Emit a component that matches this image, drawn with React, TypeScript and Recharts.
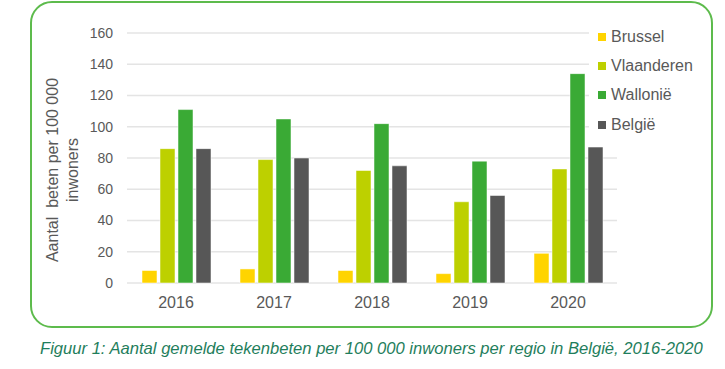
import { Bar, BarChart, CartesianGrid, Legend, XAxis, YAxis } from "recharts"

const years = ["2016", "2017", "2018", "2019", "2020"]
const brussel = [8, 9, 8, 6, 19]
const vlaanderen = [86, 79, 72, 52, 73]
const wallonie = [111, 105, 102, 78, 134]
const belgie = [86, 80, 75, 56, 87]
const yTicks = [0, 20, 40, 60, 80, 100, 120, 140, 160]

const series = [
  { key: "Brussel", color: "#FFD400" },
  { key: "Vlaanderen", color: "#BDD000" },
  { key: "Wallonië", color: "#3AAA35" },
  { key: "België", color: "#575757" },
]

const data = years.map((year, i) => ({
  year,
  Brussel: brussel[i],
  Vlaanderen: vlaanderen[i],
  Wallonië: wallonie[i],
  België: belgie[i],
}))

const font = "'Liberation Sans', Arial, sans-serif"
const grey = "#595959"

// legend keeps the series order (recharts would sort it by name)
const renderLegend = () => (
  <div style={{ background: "#fff", fontFamily: font, fontSize: 16, color: grey }}>
    {series.map((s) => (
      <div key={s.key} style={{ display: "flex", alignItems: "center", height: 29.3 }}>
        <span style={{ display: "inline-block", width: 8, height: 8, background: s.color, marginRight: 5, marginLeft: 9 }} />
        <span>{s.key}</span>
      </div>
    ))}
  </div>
)

const renderYLabel = () => {
  const cy = 170
  return (
    <g fontFamily={font} fontSize={16} fill={grey}>
      <text x={58} y={cy} textAnchor="middle" transform={`rotate(-90, 58, ${cy})`} fill={grey}>
        {"Aantal\u00a0 beten per 100 000"}
      </text>
      <text x={78} y={cy} textAnchor="middle" transform={`rotate(-90, 78, ${cy})`} fill={grey}>
        inwoners
      </text>
    </g>
  )
}

export default function App() {
  return (
    <div style={{ position: "absolute", left: 0, top: 0, width: 725, height: 369, background: "#fff" }}>
      <div
        style={{
          position: "absolute",
          left: 30,
          top: 1,
          width: 683,
          height: 327,
          boxSizing: "border-box",
          border: "2px solid #5DBB4C",
          borderRadius: 22,
        }}
      />
      <div style={{ position: "absolute", left: 0, top: 0 }}>
        <BarChart
          width={725}
          height={330}
          data={data}
          margin={{ top: 33, right: 108, bottom: 17, left: 0 }}
          barSize={15}
          barGap={3}
        >
          <CartesianGrid vertical={false} stroke="#E4E4E4" strokeWidth={1.3} />
          <XAxis
            dataKey="year"
            axisLine={false}
            tickLine={false}
            tickMargin={8}
            height={30}
            tick={{ fill: grey, fontSize: 16, fontFamily: font }}
          />
          <YAxis
            width={127}
            domain={[0, 160]}
            ticks={yTicks}
            axisLine={false}
            tickLine={false}
            tickMargin={8}
            tick={{ fill: grey, fontSize: 14, fontFamily: font }}
            label={{ content: renderYLabel }}
          />
          <Legend
            layout="vertical"
            align="center"
            verticalAlign="middle"
            content={renderLegend}
            wrapperStyle={{ position: "absolute", left: 589, top: 22, width: 120 }}
          />
          {series.map((s) => (
            <Bar
              key={s.key}
              dataKey={s.key}
              fill={s.color}
              stroke="#ffffff"
              strokeOpacity={0.5}
              strokeWidth={1}
              isAnimationActive={false}
            />
          ))}
        </BarChart>
      </div>
      <div
        style={{
          position: "absolute",
          left: 40,
          top: 339,
          fontFamily: font,
          fontStyle: "italic",
          fontSize: 16.6,
          color: "#1F7E5C",
          whiteSpace: "nowrap",
        }}
      >
        Figuur 1: Aantal gemelde tekenbeten per 100 000 inwoners per regio in België, 2016-2020
      </div>
    </div>
  )
}
